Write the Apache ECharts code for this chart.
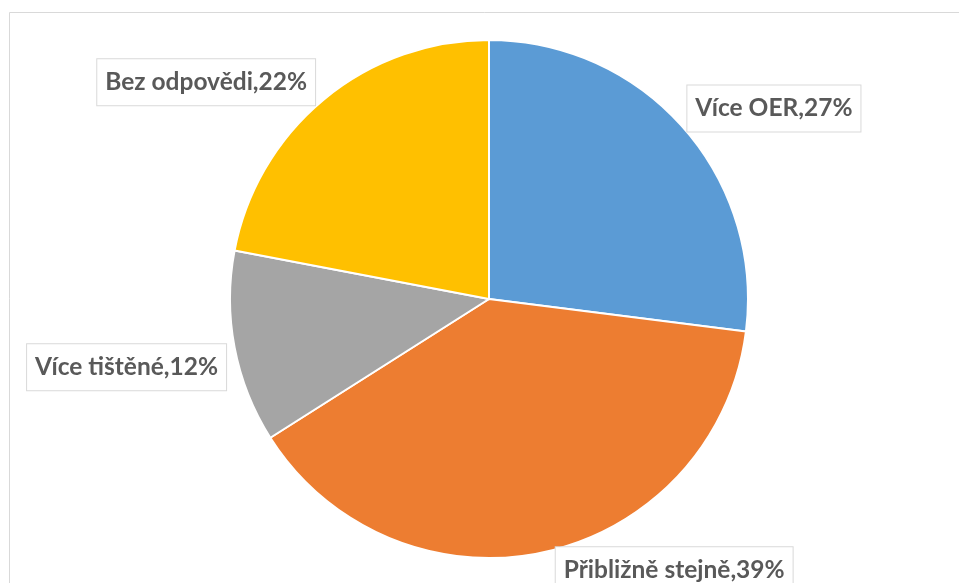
<!DOCTYPE html>
<html>
<head>
<meta charset="utf-8">
<script src="https://cdn.jsdelivr.net/npm/echarts@6/dist/echarts.min.js"></script>
<style>
  html, body { margin: 0; padding: 0; background: #ffffff; }
  #chart { width: 959px; height: 583px; }
</style>
</head>
<body>
<div id="chart"></div>
<script>
// Survey answers: share of respondents per option (percent)
const categories = ['Více OER', 'Přibližně stejně', 'Více tištěné', 'Bez odpovědi'];
const values = [27, 39, 12, 22];
const colors = ['#5B9BD5', '#ED7D31', '#A5A5A5', '#FFC000'];

// Label anchor points, as fractions of the chart area (best-fit placement)
const labelAnchors = [
  [0.807, 0.186],
  [0.703, 0.978],
  [0.132, 0.630],
  [0.215, 0.141]
];

const chart = echarts.init(document.getElementById('chart'));
const W = 959, H = 583;

chart.setOption({
  animation: false,
  backgroundColor: '#ffffff',
  graphic: [{
    type: 'rect',
    shape: { x: 9.5, y: 12.5, width: 960, height: 600 },
    style: { fill: 'none', stroke: '#d9d9d9', lineWidth: 1 },
    silent: true,
    z: -1
  }],
  series: [{
    type: 'pie',
    center: [489, 299],
    radius: [0, 259],
    startAngle: 90,
    clockwise: true,
    itemStyle: { borderColor: '#ffffff', borderWidth: 2 },
    label: {
      show: true,
      position: 'inside',
      formatter: p => p.name + ',' + p.value + '%',
      fontFamily: 'Lato',
      fontWeight: 'bold',
      fontSize: 24.5,
      color: '#595959',
      backgroundColor: '#ffffff',
      borderColor: '#d9d9d9',
      borderWidth: 1,
      padding: [11, 8, 10, 8]
    },
    labelLine: { show: false },
    labelLayout: params => {
      const a = labelAnchors[params.dataIndex];
      return { x: a[0] * W, y: a[1] * H, align: 'center', verticalAlign: 'middle' };
    },
    data: categories.map((name, i) => ({
      name: name,
      value: values[i],
      itemStyle: { color: colors[i] }
    }))
  }]
});
</script>
</body>
</html>
